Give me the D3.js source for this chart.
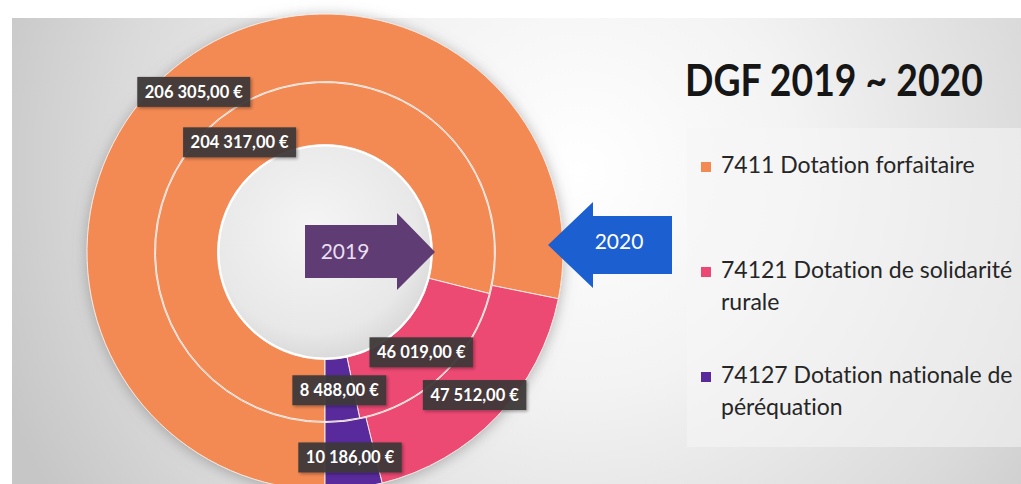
<!DOCTYPE html>
<html>
<head>
<meta charset="utf-8">
<script src="https://cdn.jsdelivr.net/npm/d3@7"></script>
<style>
  body { margin: 0; background: #fff; overflow: hidden; }
  svg { display: block; }
  text { font-variant-ligatures: none; }
</style>
</head>
<body>
<div id="chart"></div>
<script>
// categories and values (in euros)
const categories = ["7411 Dotation forfaitaire", "74121 Dotation de solidarité rurale", "74127 Dotation nationale de péréquation"];
const legendLines = [["7411 Dotation forfaitaire"], ["74121 Dotation de solidarité", "rurale"], ["74127 Dotation nationale de", "péréquation"]];
const values2019 = [204317, 46019, 8488];
const values2020 = [206305, 47512, 10186];
const colors = ["#f38953", "#ec4873", "#58299b"];
const title = "DGF 2019 ~ 2020";

const width = 1021, height = 484;
const cx = 325, cy = 252;
const rHole = 107.5, rMid = 170, rOuter = 238;

const svg = d3.select("#chart").append("svg")
    .attr("width", width)
    .attr("height", height);

const defs = svg.append("defs");

// slide background
const bg = defs.append("radialGradient").attr("id", "bg")
    .attr("gradientUnits", "userSpaceOnUse")
    .attr("cx", 580).attr("cy", 170).attr("r", 620);
bg.append("stop").attr("offset", 0).attr("stop-color", "#ffffff");
bg.append("stop").attr("offset", 0.35).attr("stop-color", "#f3f3f3");
bg.append("stop").attr("offset", 0.75).attr("stop-color", "#dadada");
bg.append("stop").attr("offset", 1).attr("stop-color", "#c6c6c6");

const hole = defs.append("radialGradient").attr("id", "hole")
    .attr("cx", "45%").attr("cy", "40%").attr("r", "60%");
hole.append("stop").attr("offset", 0).attr("stop-color", "#f5f5f5");
hole.append("stop").attr("offset", 0.8).attr("stop-color", "#e8e8e8");
hole.append("stop").attr("offset", 1).attr("stop-color", "#dadada");

const glow = defs.append("filter").attr("id", "glow")
    .attr("x", "-20%").attr("y", "-20%").attr("width", "140%").attr("height", "140%");
glow.append("feDropShadow").attr("dx", 0).attr("dy", 2).attr("stdDeviation", 7)
    .attr("flood-color", "#777").attr("flood-opacity", 0.55);

const shadow = defs.append("filter").attr("id", "shadow")
    .attr("x", "-20%").attr("y", "-30%").attr("width", "140%").attr("height", "160%");
shadow.append("feDropShadow").attr("dx", 1.5).attr("dy", 1.5).attr("stdDeviation", 1.5)
    .attr("flood-color", "#000").attr("flood-opacity", 0.35);

svg.append("rect")
    .attr("x", 12).attr("y", 18)
    .attr("width", width - 12).attr("height", height)
    .attr("fill", "url(#bg)");

// legend panel
svg.append("rect")
    .attr("x", 687).attr("y", 128)
    .attr("width", width - 687).attr("height", 319)
    .attr("fill", "#f6f6f6").attr("opacity", 0.55);

// doughnut
const pie = d3.pie().sort(null).startAngle(Math.PI).endAngle(3 * Math.PI);
const arcInner = d3.arc().innerRadius(rHole).outerRadius(rMid - 0.5);
const arcOuter = d3.arc().innerRadius(rMid + 0.5).outerRadius(rOuter);
const labelInner = d3.arc().innerRadius(139).outerRadius(139);
const labelOuter = d3.arc().innerRadius(207).outerRadius(207);

const g = svg.append("g").attr("transform", `translate(${cx},${cy})`);

const rings = g.append("g").attr("filter", "url(#glow)");

rings.selectAll("path.outer")
    .data(pie(values2020))
    .enter().append("path")
    .attr("class", "outer")
    .attr("d", arcOuter)
    .attr("fill", (d, i) => colors[i])
    .attr("stroke", "#f7e9e2")
    .attr("stroke-width", 1);

rings.selectAll("path.inner")
    .data(pie(values2019))
    .enter().append("path")
    .attr("class", "inner")
    .attr("d", arcInner)
    .attr("fill", (d, i) => colors[i])
    .attr("stroke", "#fbeee7")
    .attr("stroke-width", 1);

g.append("circle")
    .attr("r", rHole - 1)
    .attr("fill", "url(#hole)")
    .attr("stroke", "#ffffff")
    .attr("stroke-width", 2);

// data labels
const fmt = v => d3.format(",.2f")(v).replace(/,/g, " ").replace(".", ",") + " €";

function addLabels(data, arcGen) {
    data.forEach(d => {
        const [x, y] = arcGen.centroid(d);
        const lg = g.append("g").attr("transform", `translate(${x},${y})`);
        const rect = lg.append("rect").attr("fill", "#3e3939").attr("opacity", 0.94)
            .attr("filter", "url(#shadow)");
        const t = lg.append("text")
            .attr("text-anchor", "middle")
            .attr("dy", "0.36em")
            .style("font-family", "Lato, sans-serif")
            .style("font-weight", "bold")
            .style("font-size", "16.5px")
            .style("fill", "#ffffff")
            .text(fmt(d.data));
        const w = t.node().getComputedTextLength() + 15;
        rect.attr("x", -w / 2).attr("y", -15).attr("width", w).attr("height", 30);
    });
}
addLabels(pie(values2020), labelOuter);
addLabels(pie(values2019), labelInner);

// year arrows
svg.append("path")
    .attr("d", "M305,225 L397,225 L397,213 L435,252 L397,290 L397,278 L305,278 Z")
    .attr("fill", "#603c74");
svg.append("text")
    .attr("x", 345).attr("y", 252).attr("dy", "0.35em")
    .attr("text-anchor", "middle")
    .style("font-family", "Lato, sans-serif")
    .style("font-size", "21px")
    .style("fill", "#eadff0")
    .text("2019");

svg.append("path")
    .attr("d", "M548,245 L593,202 L593,216 L672,216 L672,274 L593,274 L593,288 Z")
    .attr("fill", "#1b5fd1");
svg.append("text")
    .attr("x", 619).attr("y", 242).attr("dy", "0.35em")
    .attr("text-anchor", "middle")
    .style("font-family", "Lato, sans-serif")
    .style("font-size", "21px")
    .style("fill", "#ffffff")
    .text("2020");

// title, squeezed horizontally to the width of the original
const titleText = svg.append("text")
    .attr("x", 0).attr("y", 0)
    .style("font-family", "Lato, sans-serif")
    .style("font-weight", "bold")
    .style("font-size", "43px")
    .style("fill", "#161616")
    .text(title);
const sx = 298 / titleText.node().getComputedTextLength();
titleText.attr("transform", `translate(685,96) scale(${sx},1)`);

// legend
const legend = svg.append("g").attr("transform", "translate(701,0)");
const item = legend.selectAll("g.item")
    .data(categories)
    .enter().append("g")
    .attr("class", "item")
    .attr("transform", (d, i) => `translate(0,${173 + i * 105})`);

item.append("rect")
    .attr("x", 0).attr("y", -11)
    .attr("width", 10).attr("height", 10)
    .attr("fill", (d, i) => colors[i]);

item.append("text")
    .style("font-family", "Lato, sans-serif")
    .style("font-size", "23px")
    .style("fill", "#262626")
    .each(function (d, i) {
        d3.select(this).selectAll("tspan")
            .data(legendLines[i])
            .enter().append("tspan")
            .attr("x", 20)
            .attr("y", (l, j) => j * 32)
            .text(l => l);
    });
</script>
</body>
</html>
